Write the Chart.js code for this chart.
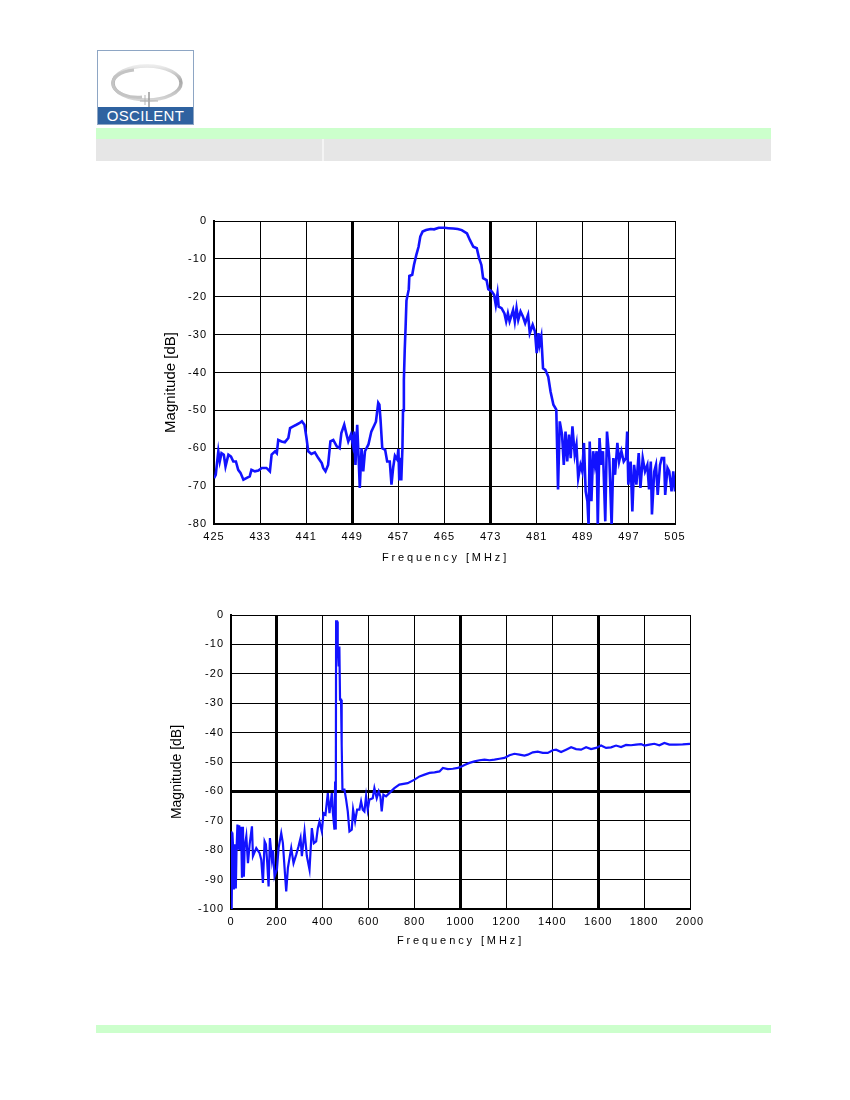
<!DOCTYPE html>
<html>
<head>
<meta charset="utf-8">
<title>Oscilent filter response</title>
<script src="https://cdn.jsdelivr.net/npm/chart.js@4.4.1/dist/chart.umd.min.js"></script>
<style>
html, body { margin: 0; padding: 0; background: #fff; width: 850px; height: 1100px; overflow: hidden; font-family: "Liberation Sans", Arial, sans-serif; }
.abs { position: absolute; }
#logo { left: 97px; top: 50px; width: 97px; height: 75px; border: 1px solid #8ea6c4; background: #fff; box-sizing: border-box; overflow: hidden; }
#logoband { position: absolute; left: 0; bottom: 0; width: 100%; height: 17px; background: #2f62a0; color: #fff; font-size: 15px; line-height: 17px; text-align: center; letter-spacing: 0.3px; }
#logoring { position: absolute; left: 0; top: 0; }
#green1 { left: 96px; top: 128px; width: 675px; height: 11px; background: #ccffcc; }
#gray1 { left: 96px; top: 139px; width: 675px; height: 22px; background: #e6e6e6; }
#gdiv { left: 322px; top: 139px; width: 2px; height: 22px; background: #f4f4f4; }
#green2 { left: 96px; top: 1025px; width: 675px; height: 8px; background: #ccffcc; }
canvas { position: absolute; }
#c1 { left: 140px; top: 200px; }
#c2 { left: 150px; top: 595px; }
</style>
</head>
<body>
<div id="logo" class="abs">
  <svg id="logoring" width="95" height="57" viewBox="0 0 95 57">
    <defs>
      <linearGradient id="rg" x1="0" y1="0" x2="0" y2="1">
        <stop offset="0" stop-color="#ececec"/>
        <stop offset="0.45" stop-color="#a9a9a9"/>
        <stop offset="1" stop-color="#d6d6d6"/>
      </linearGradient>
    </defs>
    <ellipse cx="49" cy="32" rx="34" ry="17" fill="none" stroke="url(#rg)" stroke-width="3.5"/>
    <path d="M 36 19 A 24 13 0 0 0 44 46" fill="none" stroke="#c4c4c4" stroke-width="3"/>
    <line x1="51" y1="41" x2="51" y2="56" stroke="#9a9a9a" stroke-width="1.5"/>
    <line x1="47" y1="44" x2="47" y2="54" stroke="#b5b5b5" stroke-width="1"/>
    <line x1="42" y1="50" x2="60" y2="50" stroke="#b0b0b0" stroke-width="1"/>
  </svg>
  <div id="logoband">OSCILENT</div>
</div>
<div id="green1" class="abs"></div>
<div id="gray1" class="abs"></div>
<div id="gdiv" class="abs"></div>
<div id="green2" class="abs"></div>

<canvas id="c1" width="580" height="380"></canvas>
<canvas id="c2" width="580" height="370"></canvas>

<script>
// ---------- Chart 1: narrow-band response 425 - 505 MHz ----------
const xTicks1 = [425, 433, 441, 449, 457, 465, 473, 481, 489, 497, 505];
const yTicks1 = [0, -10, -20, -30, -40, -50, -60, -70, -80];
const thickX1 = [449, 473];
const thickY1 = [];

const freq1 = [
  425.0,425.3,425.75,426.0,426.3,426.7,427.0,427.5,427.95,428.35,
  428.8,429.2,429.6,430.1,430.7,431.2,431.5,432.1,432.7,433.3,
  434.1,434.7,435.0,435.6,435.9,436.15,436.7,437.3,437.9,438.2,
  438.75,439.3,439.8,440.25,440.7,441.05,441.35,441.9,442.5,443.1,
  443.7,443.95,444.35,444.8,445.2,445.7,446.3,446.8,447.1,447.6,
  448.0,448.3,448.75,449.1,449.3,449.55,449.85,450.05,450.3,450.6,
  450.9,451.2,451.8,452.3,452.8,453.1,453.5,453.7,453.9,454.2,
  454.7,455.05,455.5,455.8,456.1,456.4,456.8,457.0,457.15,457.3,
  457.5,457.7,457.8,457.95,458.1,458.25,458.4,458.8,458.9,459.4,
  459.7,460.1,460.5,460.8,461.2,461.8,462.6,463.2,464.0,465.0,
  465.7,466.5,467.3,468.0,468.9,469.4,470.0,470.6,471.0,471.4,
  471.7,472.3,472.6,473.2,473.6,473.9,474.2,474.4,474.9,475.4,
  475.7,476.0,476.3,476.9,477.2,477.5,477.8,478.2,478.6,479.0,
  479.5,479.8,480.3,480.7,481.0,481.3,481.5,481.8,482.1,482.5,
  483.0,483.4,483.9,484.4,484.7,485.0,485.4,485.7,486.0,486.3,
  486.6,486.9,487.2,487.6,487.9,488.2,488.6,488.9,489.2,489.5,
  489.8,490.0,490.2,490.5,490.8,491.1,491.4,491.6,491.9,492.2,
  492.5,492.9,493.2,493.6,494.0,494.3,494.6,495.0,495.3,495.7,
  496.1,496.5,496.7,496.9,497.3,497.6,497.9,498.3,498.7,499.0,
  499.4,499.8,500.2,500.5,500.8,501.0,501.4,501.7,502.0,502.4,
  502.7,503.1,503.3,503.7,504.0,504.4,504.7,505.0
];
const mag1 = [
  -67.9,-67,-60.8,-63.5,-61.3,-61.7,-64.8,-61.7,-62.2,-63.5,
  -63.5,-65.7,-66.5,-68.3,-67.8,-67.4,-65.7,-66.1,-65.9,-65.2,
  -65.2,-66.1,-61.7,-60.8,-61.3,-57.8,-58.2,-58.4,-57.3,-54.7,
  -54.2,-53.8,-53.4,-52.9,-53.8,-57.3,-60.8,-61.5,-61.1,-62.6,
  -63.9,-65.2,-66.1,-64.4,-58.2,-57.8,-59.5,-60,-56,-53.8,
  -56.4,-58.2,-56.4,-59.1,-55.6,-64.4,-53.8,-60.8,-70.5,-60,
  -66.1,-60.8,-59,-55.6,-54,-53,-48,-48.5,-52.5,-60,
  -60.4,-63.5,-63.5,-69.6,-65,-62,-63,-60.2,-68.5,-62.5,
  -68.5,-60,-50,-42,-34,-28,-21,-18,-14.5,-14.2,
  -11.6,-9,-6.8,-4.1,-2.8,-2.4,-2.1,-2.2,-1.8,-1.8,
  -1.9,-2.0,-2.1,-2.4,-3.3,-5,-6.8,-7.2,-9.8,-11.6,
  -15.1,-15.6,-18,-18.6,-19.5,-22.2,-19.1,-22.6,-23,-24.4,
  -26.5,-24.4,-26.5,-23.5,-26.5,-23,-26.1,-23.9,-25.2,-27,
  -24.8,-29.6,-27.4,-29.2,-34.9,-29.6,-32.7,-30.5,-38.9,-39.3,
  -41.1,-45,-48.5,-49.8,-70.9,-52.9,-56.4,-64.4,-55.6,-63.5,
  -56.4,-62.6,-54.2,-61.7,-59.1,-67.9,-64.4,-66.1,-58.6,-71.4,
  -74,-80.5,-58.2,-74,-60.8,-64.4,-60.8,-80.5,-57.3,-64.4,
  -60.8,-79.3,-55.6,-62.6,-80.5,-62.6,-67,-58.6,-63.5,-60.8,
  -63.5,-62.6,-55.6,-69.6,-63.5,-76.7,-64.4,-69.6,-61.3,-70.5,
  -62.6,-66.1,-64.4,-70.9,-63.5,-77.5,-66.1,-64.4,-72.3,-64.4,
  -62.6,-62.6,-72.3,-65.2,-66.1,-71.4,-66.1,-71.4
];

// ---------- Chart 2: wide-band response 0 - 2000 MHz ----------
const xTicks2 = [0, 200, 400, 600, 800, 1000, 1200, 1400, 1600, 1800, 2000];
const yTicks2 = [0, -10, -20, -30, -40, -50, -60, -70, -80, -90, -100];
const thickX2 = [200, 1000, 1600];
const thickY2 = [-60];

const freq2 = [
  0,3,6,9,13,17,21,24,28,32,
  36,40,44,47.8,52,56,59.4,66.7,73.9,81.2,
  91.3,95.7,110.1,124.6,131.9,139.1,146.4,152,158,163.8,
  169.6,178.3,183,189.9,200,207.3,218.9,226.1,233.4,240.6,
  247.9,255.1,262.4,272.5,284.1,294.3,303,308.8,320.4,330.5,
  342.1,352.3,361,371.1,378.4,385.6,395.8,403,411.7,421.8,
  429.1,439.2,443.5,450.8,453.7,456.5,458,462,465,469.3,
  472.2,475.1,479.4,482.3,485.6,494.3,501.6,508.8,516.1,526.2,
  532,540.7,549.4,559.6,566.8,574.1,581.3,588.6,595.8,603.1,
  617.6,624.8,635,643.7,650.9,656.7,664,675.6,697.4,711.9,
  733.6,769.9,799.7,821.5,843.3,865,886.8,908.6,923.1,944.8,
  966.6,988.4,1000,1017.4,1039.2,1061,1082.7,1104.5,1126.3,1148,
  1169.8,1191.6,1213.4,1235.1,1256.9,1278.7,1293.2,1315,1336.7,1358.5,
  1380.3,1402,1416.5,1438.3,1460.1,1481.9,1503.6,1525.4,1547.2,1568.9,
  1590.7,1612.5,1634.3,1656,1677.8,1699.6,1721.3,1743.1,1764.9,1786.7,
  1801.2,1822.9,1844.7,1866.5,1888.2,1910,1939,1968.1,2000
];
const mag2 = [
  -73.6,-100,-74,-78.7,-93.4,-78,-93,-80,-71.3,-79.8,
  -71.5,-80,-72,-89.4,-72,-89,-79,-75.3,-84.4,-78,
  -71.9,-82,-79.3,-81,-83.2,-91.1,-77,-78,-84.4,-92.3,
  -75.9,-83.2,-80,-88.9,-86.6,-79.3,-74.2,-77.6,-86,-94,
  -86,-82.6,-79.3,-84.4,-81.5,-78.7,-75.9,-82,-73.6,-82,
  -86.6,-72.5,-77.6,-77,-72.5,-70.2,-73.6,-67.4,-67.9,-60.6,
  -67.4,-60.6,-66.8,-73,-56.6,-73,-2.2,-2.2,-10.7,-17.5,
  -10.7,-28.8,-28.8,-44.1,-59.4,-59.4,-62.8,-66.8,-73.6,-73,
  -66.2,-70.2,-66.2,-66.2,-63.4,-66.2,-66.8,-61.7,-66.2,-62.8,
  -62.3,-58.9,-62.3,-60,-61.7,-66.8,-61.1,-61.7,-60,-58.9,
  -57.7,-57.2,-56,-54.9,-54.3,-53.7,-53.5,-53.2,-52,-52.4,
  -52.3,-52,-51.7,-51,-50.3,-49.8,-49.4,-49.2,-49.4,-49.2,
  -48.9,-48.6,-47.7,-47.2,-47.5,-47.8,-47.5,-46.7,-46.5,-46.9,
  -46.9,-46,-45.8,-46.6,-45.8,-45,-45.6,-45.8,-45,-45.6,
  -45.2,-44.4,-45.2,-45,-44.4,-44.9,-44.2,-44.3,-44.1,-43.9,
  -44.4,-44.1,-43.8,-44.3,-43.5,-44.1,-44.1,-44,-43.8
];

const xTitle = 'Frequency [MHz]';
const yTitle = 'Magnitude [dB]';

// Plugin: letter spacing and small offsets for axis titles / tick labels
const spacingPlugin = {
  id: 'spacing',
  afterLayout(chart, args, opts) {
    for (const id of ['x', 'y']) {
      const s = chart.scales[id];
      if (!s || s._patched) continue;
      s._patched = true;
      const proto = Object.getPrototypeOf(s);
      const o = (opts && opts[id]) || {};
      s.drawTitle = function () {
        const c = this.ctx;
        c.save();
        c.letterSpacing = (o.titleLS || 0) + 'px';
        c.translate(o.dx || 0, o.dy || 0);
        proto.drawTitle.call(this);
        c.restore();
      };
      s.drawLabels = function (area) {
        const c = this.ctx;
        c.save();
        c.letterSpacing = (o.tickLS || 0) + 'px';
        proto.drawLabels.call(this, area);
        c.restore();
      };
    }
  }
};

const FONT = '"Liberation Sans", Arial, sans-serif';

function makeChart(id, freq, mag, cfg) {
  const pts = freq.map((f, i) => ({ x: f, y: mag[i] }));
  return new Chart(document.getElementById(id), {
    type: 'line',
    data: {
      datasets: [{
        data: pts,
        borderColor: '#1212ff',
        borderWidth: cfg.lineWidth,
        pointRadius: 0,
        tension: 0,
        fill: false,
        borderJoinStyle: 'miter'
      }]
    },
    options: {
      responsive: false,
      animation: false,
      events: [],
      layout: { padding: cfg.padding },
      plugins: {
        legend: { display: false },
        tooltip: { enabled: false },
        spacing: cfg.spacing
      },
      scales: {
        x: {
          type: 'linear',
          min: cfg.xTicks[0],
          max: cfg.xTicks[cfg.xTicks.length - 1],
          afterBuildTicks: s => { s.ticks = cfg.xTicks.map(v => ({ value: v })); },
          afterFit: s => { s.height = cfg.xAxisHeight; },
          ticks: {
            callback: v => String(v),
            autoSkip: false, maxRotation: 0, minRotation: 0,
            color: '#000', padding: cfg.xTickPad,
            font: { family: FONT, size: 11 }
          },
          grid: {
            color: '#000',
            lineWidth: c => (c.tick && cfg.thickX.includes(c.tick.value)) ? 3 : 1,
            drawTicks: false
          },
          border: { display: true, color: '#000', width: 2 },
          title: {
            display: true, text: xTitle, color: '#000',
            font: { family: FONT, size: 11 },
            padding: { top: cfg.xTitlePad, bottom: cfg.xTitlePad }
          }
        },
        y: {
          type: 'linear',
          min: cfg.yTicks[cfg.yTicks.length - 1],
          max: cfg.yTicks[0],
          afterBuildTicks: s => { s.ticks = cfg.yTicks.slice().reverse().map(v => ({ value: v })); },
          afterFit: s => { s.width = cfg.yAxisWidth; },
          ticks: {
            callback: v => String(v),
            autoSkip: false,
            color: '#000', padding: 7,
            font: { family: FONT, size: 11 }
          },
          grid: {
            color: '#000',
            lineWidth: c => (c.tick && cfg.thickY.includes(c.tick.value)) ? 3 : 1,
            drawTicks: false
          },
          border: { display: true, color: '#000', width: 2 },
          title: {
            display: true, text: yTitle, color: '#000',
            font: { family: FONT, size: cfg.yTitleSize },
            padding: { top: cfg.yTitlePad, bottom: cfg.yTitlePad }
          }
        }
      }
    },
    plugins: [spacingPlugin]
  });
}

makeChart('c1', freq1, mag1, {
  xTicks: xTicks1, yTicks: yTicks1, thickX: thickX1, thickY: thickY1,
  lineWidth: 2.6,
  padding: { left: 0, top: 21, right: 45, bottom: 6 },
  yAxisWidth: 74, xAxisHeight: 50,
  xTickPad: 6, xTitlePad: 9, yTitlePad: 22, yTitleSize: 15,
  spacing: { x: { titleLS: 2.9, tickLS: 1, dx: 1, dy: 0 }, y: { titleLS: 0, tickLS: 1, dx: 0, dy: 10 } }
});

makeChart('c2', freq2, mag2, {
  xTicks: xTicks2, yTicks: yTicks2, thickX: thickX2, thickY: thickY2,
  lineWidth: 2.2,
  padding: { left: 0, top: 20, right: 40, bottom: 6 },
  yAxisWidth: 81, xAxisHeight: 50,
  xTickPad: 6, xTitlePad: 11, yTitlePad: 19, yTitleSize: 14,
  spacing: { x: { titleLS: 2.9, tickLS: 1, dx: 0, dy: 0 }, y: { titleLS: 0, tickLS: 1, dx: 0, dy: 10 } }
});
</script>
</body>
</html>
